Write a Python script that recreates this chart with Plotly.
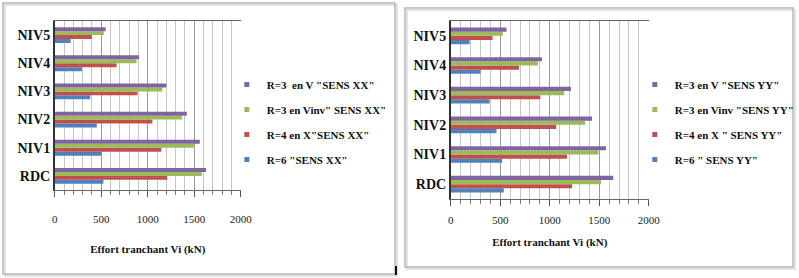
import plotly.graph_objects as go

levels = ["RDC", "NIV1", "NIV2", "NIV3", "NIV4", "NIV5"]

# Left chart: direction XX
xx_r6 = [523, 498, 452, 381, 292, 171]
xx_r4x = [1210, 1146, 1050, 890, 665, 399]
xx_r3vinv = [1580, 1505, 1367, 1157, 879, 527]
xx_r3v = [1626, 1559, 1420, 1199, 907, 548]
xx_names = ['R=6 "SENS XX"', 'R=4 en X"SENS XX"', 'R=3 en Vinv" SENS XX"', 'R=3  en V "SENS XX"']

# Right chart: direction YY
yy_r6 = [536, 519, 462, 392, 302, 191]
yy_r4x = [1226, 1176, 1065, 905, 690, 422]
yy_r3vinv = [1518, 1491, 1357, 1146, 881, 526]
yy_r3v = [1642, 1568, 1427, 1213, 921, 563]
yy_names = ['R=6 " SENS YY"', 'R=4 en X " SENS YY"', 'R=3 en Vinv "SENS YY"', 'R=3 en V "SENS YY"']

colors = ["#4F81BD", "#C0504D", "#9BBB59", "#8064A2"]
x_ticks = [0, 500, 1000, 1500, 2000]
x_title = "Effort tranchant Vi (kN)"

W, H = 799, 278
FONT = "Liberation Serif, Times New Roman, serif"

fig = go.Figure()

panels = [
    ([xx_r6, xx_r4x, xx_r3vinv, xx_r3v], xx_names, "x", "y", "legend", "a"),
    ([yy_r6, yy_r4x, yy_r3vinv, yy_r3v], yy_names, "x2", "y2", "legend2", "b"),
]
for series, names, xa, ya, lg, tag in panels:
    for i, (vals, name) in enumerate(zip(series, names)):
        fig.add_trace(go.Bar(y=levels, x=vals, orientation="h", name=name,
                             marker=dict(color=colors[i], line=dict(width=0)),
                             xaxis=xa, yaxis=ya, showlegend=False,
                             legendgroup=tag + str(i)))
        # small square legend key (like the reference), no data drawn
        fig.add_trace(go.Scatter(x=[None], y=[None], mode="markers", name=name,
                                 marker=dict(color=colors[i], symbol="square", size=5),
                                 xaxis=xa, yaxis=ya, legend=lg, legendgroup=tag + str(i),
                                 legendrank=10 - i, showlegend=True))

def px_x(p):
    return p / W

def px_y(p):
    return 1 - p / H

def xaxis_cfg(x0, x1, anchor, lab_off, title_off):
    return dict(domain=[px_x(x0), px_x(x1)], anchor=anchor, range=[0, 2000],
                automargin=False,
                tickvals=x_ticks, ticks="outside", ticklen=6, tickcolor="#555",
                ticklabelstandoff=lab_off,
                showline=True, linecolor="#666", linewidth=1, mirror=True,
                showgrid=True, gridcolor="#999999", gridwidth=1,
                minor=dict(dtick=100, showgrid=True, gridcolor="#c6c6c6", ticks="outside",
                           ticklen=4, tickcolor="#777"),
                tickfont=dict(family=FONT, size=11, color="#222"),
                title=dict(text="<b>" + x_title + "</b>", font=dict(family=FONT, size=11, color="#111"),
                           standoff=title_off),
                zeroline=False, fixedrange=True)

def yaxis_cfg(y0, y1, anchor):
    return dict(domain=[px_y(y1), px_y(y0)], anchor=anchor, type="category",
                automargin=False,
                showline=True, linecolor="#333", linewidth=1.5,
                tickfont=dict(family=FONT, size=14, color="#111"),
                ticks="", showgrid=False, fixedrange=True)

legend_common = dict(xanchor="left", yanchor="top", traceorder="grouped", tracegroupgap=6,
                     font=dict(family=FONT, size=11, color="#111"),
                     itemwidth=30, bgcolor="rgba(0,0,0,0)")

fig.update_layout(
    width=W, height=H,
    margin=dict(l=0, r=0, t=0, b=0),
    paper_bgcolor="white", plot_bgcolor="white",
    barmode="group", bargap=0.44, bargroupgap=0,
    xaxis=xaxis_cfg(55, 242, "y", 13, 21),
    yaxis=yaxis_cfg(21, 190, "x"),
    xaxis2=xaxis_cfg(453, 652, "y2", 5, 13),
    yaxis2=yaxis_cfg(21, 199, "x2"),
    legend=dict(x=px_x(228), y=px_y(70), **legend_common),
    legend2=dict(x=px_x(638), y=px_y(70), **legend_common),
    showlegend=True,
)

# bold fonts for tick labels
fig.update_xaxes(tickprefix="<b>", ticksuffix="</b>")
fig.update_yaxes(tickprefix="<b>", ticksuffix="</b>")
for tr in fig.data:
    if tr.showlegend:
        tr.name = "<b>" + tr.name + "</b>"

shapes = []
for (x0, y0, x1, y1) in [(3, 3, 397, 274), (407, 8, 797, 267)]:
    shapes.append(dict(type="rect", xref="paper", yref="paper",
                       x0=px_x(x0 + 2), x1=px_x(x1 + 2), y0=px_y(y1 + 2), y1=px_y(y0 + 2),
                       line=dict(color="#e2e2e2", width=2), layer="below"))
    shapes.append(dict(type="rect", xref="paper", yref="paper",
                       x0=px_x(x0), x1=px_x(x1), y0=px_y(y1), y1=px_y(y0),
                       line=dict(color="#b5b5b5", width=1.5), layer="below"))
shapes.append(dict(type="line", xref="paper", yref="paper",
                   x0=px_x(398), x1=px_x(398), y0=px_y(266), y1=px_y(275),
                   line=dict(color="#111", width=2)))
fig.update_layout(shapes=shapes)

fig.write_html("out.html", config={"displayModeBar": False},
               post_script="document.body.style.margin='0';document.body.style.overflow='hidden';")
